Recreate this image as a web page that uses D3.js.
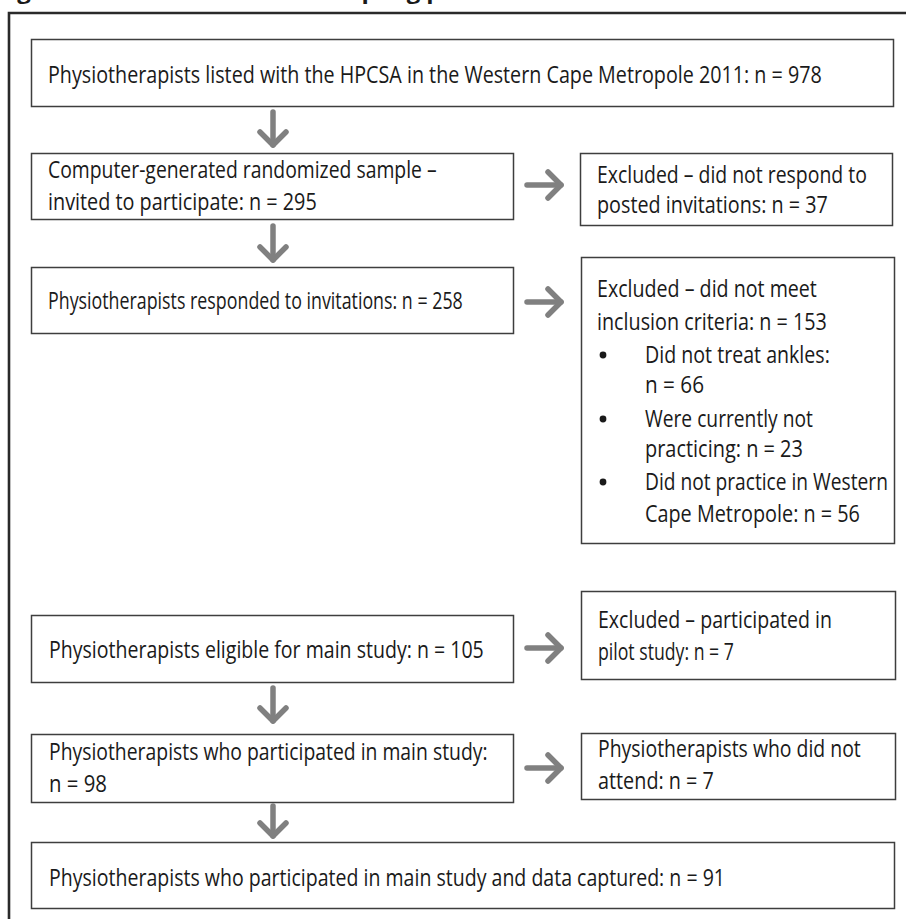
<!DOCTYPE html>
<html>
<head>
<meta charset="utf-8">
<script src="https://cdn.jsdelivr.net/npm/d3@7"></script>
<style>
  html, body { margin: 0; padding: 0; background: #fff; overflow: hidden; }
  svg { display: block; }
</style>
</head>
<body>
<script>
// ---------- data ----------
const titleText = "Figure 1: Flow chart of the sampling process";

const stepLabels = [
  ["Physiotherapists listed with the HPCSA in the Western Cape Metropole 2011: n = 978"],
  ["Computer-generated randomized sample –", "invited to participate: n = 295"],
  ["Physiotherapists responded to invitations: n = 258"],
  ["Physiotherapists eligible for main study: n = 105"],
  ["Physiotherapists who participated in main study:", "n = 98"],
  ["Physiotherapists who participated in main study and data captured: n = 91"]
];

const exclusionLabels = [
  ["Excluded – did not respond to", "posted invitations: n = 37"],
  ["Excluded – did not meet", "inclusion criteria: n = 153"],
  ["Excluded – participated in", "pilot study: n = 7"],
  ["Physiotherapists who did not", "attend: n = 7"]
];

const bulletItems = [
  ["Did not treat ankles:", "n = 66"],
  ["Were currently not", "practicing: n = 23"],
  ["Did not practice in Western", "Cape Metropole: n = 56"]
];

const stepCounts = [978, 295, 258, 105, 98, 91];
const exclusionCounts = [37, 153, 7, 7];
const bulletCounts = [66, 23, 56];

// ---------- layout (geometry only) ----------
const W = 906, H = 919;
const stepLayout = [
  {x: 31, y: 39,  w: 862, h: 67, tx: 48, base: [83],       tw: [774]},
  {x: 31, y: 153, w: 482, h: 66, tx: 48, base: [178, 210], tw: [389, 269]},
  {x: 31, y: 267, w: 482, h: 66, tx: 48, base: [309],      tw: [415]},
  {x: 31, y: 615, w: 482, h: 67, tx: 49, base: [658],      tw: [435]},
  {x: 31, y: 734, w: 482, h: 68, tx: 49, base: [760, 792], tw: [439, 58]},
  {x: 31, y: 842, w: 863, h: 66, tx: 49, base: [886],      tw: [676]}
];
const exclLayout = [
  {x: 580, y: 153, w: 312, h: 72,  tx: 597, base: [183, 213], tw: [270, 231]},
  {x: 581, y: 257, w: 313, h: 286, tx: 597, base: [297, 330], tw: [220, 230]},
  {x: 581, y: 591, w: 314, h: 88,  tx: 598, base: [628, 660], tw: [234, 136]},
  {x: 581, y: 733, w: 314, h: 66,  tx: 598, base: [757, 789], tw: [263, 116]}
];
const bulletLayout = {dotX: 603, tx: 645,
  base: [[363, 393], [427, 457], [490, 522]],
  tw: [[185, 59], [168, 158], [243, 215]]};

const downArrows = [ {x: 273, y0: 112, y1: 147}, {x: 273, y0: 226, y1: 262},
                     {x: 273, y0: 688, y1: 723}, {x: 273, y0: 806, y1: 838} ];
const rightArrows = [ {y: 185, x0: 527, x1: 563}, {y: 302, x0: 527, x1: 563},
                      {y: 648, x0: 527, x1: 563}, {y: 768, x0: 527, x1: 563} ];

// ---------- drawing ----------
const svg = d3.select("body").append("svg").attr("width", W).attr("height", H);
const FONT = "'Open Sans', 'Noto Sans', sans-serif";
const TEXT_COL = "#1a1a1a", BOX_COL = "#3e3e3e", ARROW_COL = "#808080";
const FS = 23.5;

// cut-off title (only its descenders show, as in the reference)
svg.append("text").attr("x", -3).attr("y", -1)
  .attr("font-family", FONT).attr("font-weight", 700).attr("font-size", 22)
  .attr("fill", TEXT_COL).text(titleText)
  .attr("textLength", 520).attr("lengthAdjust", "spacingAndGlyphs");

// outer frame (extends past the window on the right and bottom)
svg.append("path")
  .attr("d", d3.line()([[9, H + 10], [9, 13], [W + 10, 13]]))
  .attr("fill", "none").attr("stroke", "#2a2a2a").attr("stroke-width", 2.6);

function drawBox(g, L) {
  g.append("rect").attr("x", L.x + 0.5).attr("y", L.y + 0.5)
    .attr("width", L.w).attr("height", L.h)
    .attr("fill", "#fff").attr("stroke", BOX_COL).attr("stroke-width", 1.5);
}
// each line is set at its natural width, then squeezed horizontally to the
// width it has in the reference (the original face is narrower than Open Sans)
function drawLines(g, lines, x, bases, widths) {
  g.selectAll(null).data(lines).join("text")
    .attr("x", 0).attr("y", 0)
    .attr("font-family", FONT).attr("font-size", FS).attr("fill", TEXT_COL)
    .text(d => d)
    .each(function (d, i) {
      const natural = this.getComputedTextLength();
      const sx = widths[i] / natural;
      d3.select(this).attr("transform", `translate(${x},${bases[i]}) scale(${sx},1)`);
    });
}

const steps = svg.append("g");
stepLabels.forEach((lines, i) => {
  const g = steps.append("g").attr("class", "step").datum(stepCounts[i]);
  const L = stepLayout[i];
  drawBox(g, L);
  drawLines(g, lines, L.tx, L.base, L.tw);
});

const excl = svg.append("g");
exclusionLabels.forEach((lines, i) => {
  const g = excl.append("g").attr("class", "excl").datum(exclusionCounts[i]);
  const L = exclLayout[i];
  drawBox(g, L);
  drawLines(g, lines, L.tx, L.base, L.tw);
  if (i === 1) {
    bulletItems.forEach((item, j) => {
      const bg = g.append("g").datum(bulletCounts[j]);
      bg.append("circle").attr("cx", bulletLayout.dotX)
        .attr("cy", bulletLayout.base[j][0] - 8).attr("r", 3.4).attr("fill", TEXT_COL);
      drawLines(bg, item, bulletLayout.tx, bulletLayout.base[j], bulletLayout.tw[j]);
    });
  }
});

// arrows
const arrowG = svg.append("g").attr("stroke", ARROW_COL).attr("stroke-width", 5.5)
  .attr("fill", "none").attr("stroke-linecap", "round").attr("stroke-linejoin", "round");
const line = d3.line();
downArrows.forEach(a => {
  arrowG.append("path").attr("d", line([[a.x, a.y0], [a.x, a.y1 - 2]]));
  arrowG.append("path").attr("d", line([[a.x - 13, a.y1 - 15], [a.x, a.y1 - 2], [a.x + 13, a.y1 - 15]]));
});
rightArrows.forEach(a => {
  arrowG.append("path").attr("d", line([[a.x0, a.y], [a.x1 - 2, a.y]]));
  arrowG.append("path").attr("d", line([[a.x1 - 15, a.y - 13], [a.x1 - 2, a.y], [a.x1 - 15, a.y + 13]]));
});
</script>
</body>
</html>
